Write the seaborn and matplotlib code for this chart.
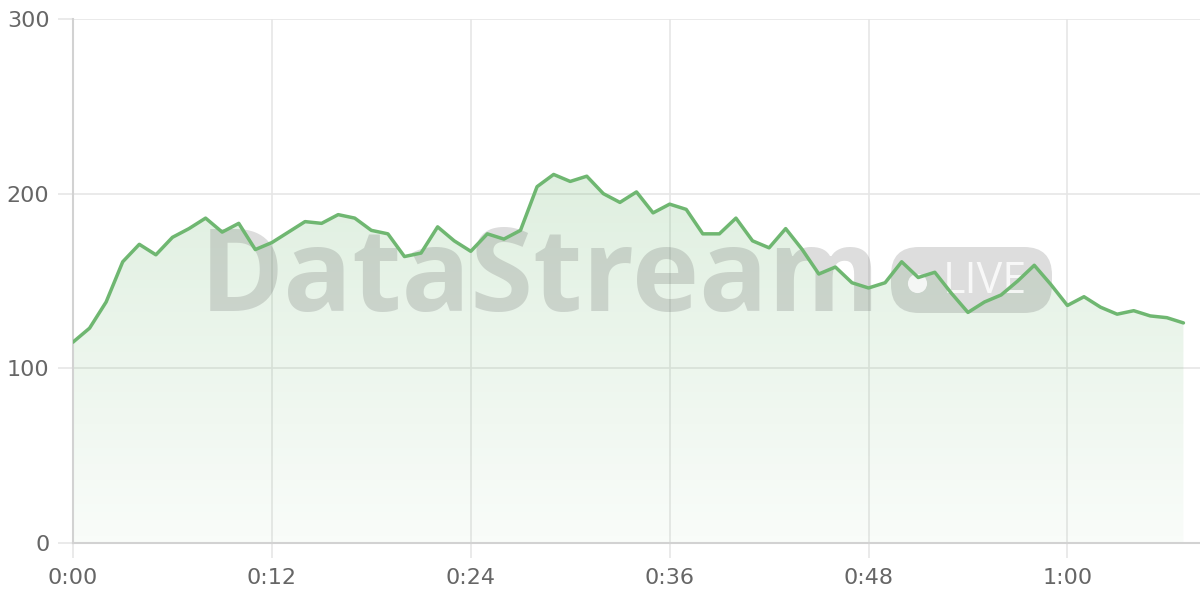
import seaborn as sns
import matplotlib.pyplot as plt
import numpy as np
import pandas as pd
from matplotlib.colors import LinearSegmentedColormap
from matplotlib.patches import FancyBboxPatch
from matplotlib.transforms import IdentityTransform

sns.set_theme(style="white")
plt.rcParams['font.family'] = ['DejaVu Sans']

# elapsed seconds and the value at each second
seconds = list(range(68))
values = [115, 123, 138, 161, 171, 165, 175, 180, 186, 178,
          183, 168, 172, 178, 184, 183, 188, 186, 179, 177,
          164, 166, 181, 173, 167, 177, 174, 179, 204, 211,
          207, 210, 200, 195, 201, 189, 194, 191, 177, 177,
          186, 173, 169, 180, 168, 154, 158, 149, 146, 149,
          161, 152, 155, 143, 132, 138, 142, 150, 159, 148,
          136, 141, 135, 131, 133, 130, 129, 126]
tick_pos = [0, 12, 24, 36, 48, 60]
tick_labels = ["0:00", "0:12", "0:24", "0:36", "0:48", "1:00"]

df = pd.DataFrame({"t": seconds, "v": values})

line_color = "#6fb771"
grid_color = "#e6e6e6"
label_color = "#666666"

fig = plt.figure(figsize=(12, 6), dpi=100)
ax = fig.add_axes([73 / 1200, 57 / 600, 1127 / 1200, 524 / 600])

# gradient fill under the line
fill = ax.fill_between(df["t"], df["v"], 0, color="none", lw=0)
cmap = LinearSegmentedColormap.from_list(
    "g", [(0.43, 0.72, 0.44, 0.04), (0.43, 0.72, 0.44, 0.22)])
grad = np.linspace(0, 1, 256).reshape(-1, 1)
img = ax.imshow(grad, cmap=cmap, origin="lower", aspect="auto",
                extent=[0, df["t"].max(), 0, df["v"].max()], zorder=1)
img.set_clip_path(fill.get_paths()[0], transform=ax.transData)

sns.lineplot(data=df, x="t", y="v", ax=ax, color=line_color,
             linewidth=2.5, zorder=4)

# watermark (pixel positions, figure is 1200x600 at 100 dpi)
px = IdentityTransform()
ax.text(540, 600 - 282, "DataStream", transform=px,
        ha="center", va="center", fontsize=82, fontweight="bold",
        family=["Open Sans", "DejaVu Sans"], color="#555555", alpha=0.2,
        zorder=3, clip_on=False)
pill = FancyBboxPatch((891, 600 - 313), 161, 66,
                      boxstyle="round,pad=0,rounding_size=28",
                      transform=px, fc="#555555", ec="none",
                      alpha=0.2, zorder=3, clip_on=False)
ax.add_artist(pill)
ax.text(985, 600 - 282, "LIVE", transform=px,
        ha="center", va="center", fontsize=31, color="white", alpha=0.8,
        family=["Open Sans", "DejaVu Sans"], zorder=3, clip_on=False)
ax.scatter([917], [600 - 283], s=190, color="white", alpha=0.8, lw=0,
           transform=px, zorder=3, clip_on=False)

ax.set_xlim(0, 68)
ax.set_ylim(0, 300)
ax.set_xticks(tick_pos)
ax.set_xticklabels(tick_labels)
ax.set_yticks([0, 100, 200, 300])
ax.set_xlabel("")
ax.set_ylabel("")

ax.grid(True, color=grid_color, linewidth=1.2)
ax.set_axisbelow(True)
ax.tick_params(axis="both", bottom=True, left=True, length=11, width=1.2,
               color=grid_color, labelsize=16, labelcolor=label_color, pad=6)
ax.tick_params(axis="x", pad=7)
for side in ["top", "right"]:
    ax.spines[side].set_visible(False)
for side in ["left", "bottom"]:
    ax.spines[side].set_color("#d2d2d2")
    ax.spines[side].set_linewidth(1.5)

fig.savefig("out.png", dpi=100)
